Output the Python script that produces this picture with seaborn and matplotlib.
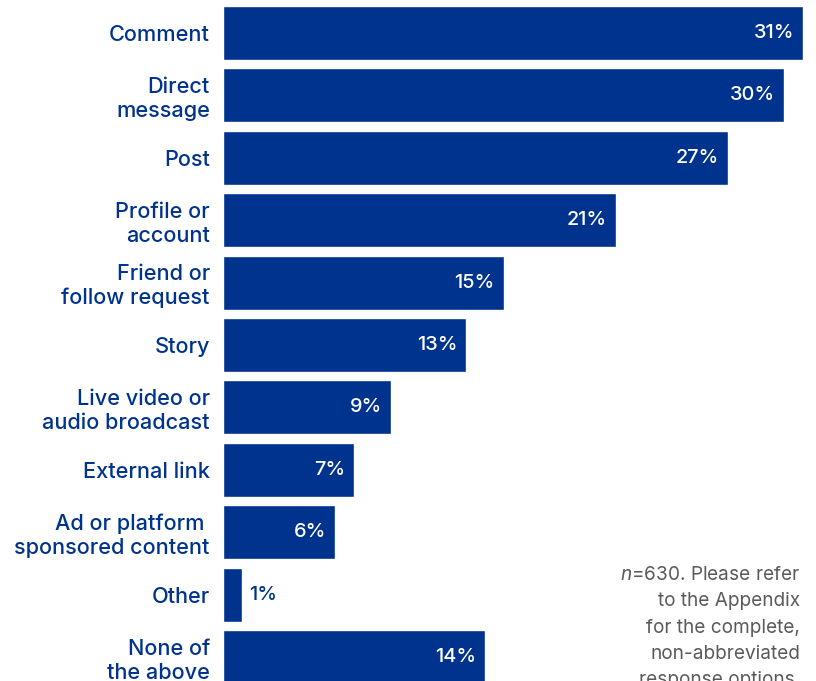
import matplotlib
matplotlib.use("Agg")
import matplotlib.pyplot as plt
import seaborn as sns
import pandas as pd

categories = [
    "Comment",
    "Direct\nmessage",
    "Post",
    "Profile or\naccount",
    "Friend or\nfollow request",
    "Story",
    "Live video or\naudio broadcast",
    "External link",
    "Ad or platform \nsponsored content",
    "Other",
    "None of\nthe above",
]
values = [31, 30, 27, 21, 15, 13, 9, 7, 6, 1, 14]
note_lines = [
    "$\\it{n}$=630. Please refer",
    "to the Appendix",
    "for the complete,",
    "non-abbreviated",
    "response options.",
]

NAVY = "#00338D"
GREY = "#5a5a5a"

sns.set_theme(style="white")
plt.rcParams["font.family"] = ["Inter", "DejaVu Sans"]
plt.rcParams["mathtext.fontset"] = "custom"
plt.rcParams["mathtext.rm"] = "Inter"
plt.rcParams["mathtext.it"] = "Inter:italic"

df = pd.DataFrame({"category": categories, "value": values})

W, H = 816, 681
fig = plt.figure(figsize=(W / 100, H / 100), dpi=100)
left_px = 223
ax = fig.add_axes([left_px / W, 0, 1 - left_px / W, 1])

sns.barplot(data=df, x="value", y="category", orient="h", color=NAVY,
            saturation=1, width=0.865, ax=ax)

px_per_unit = (803 - 223) / 31
ax.set_xlim(0, (W - left_px) / px_per_unit)
top_c = 33
pitch = 62.4
ax.set_ylim((H - top_c) / pitch, -top_c / pitch)

for s in ax.spines.values():
    s.set_visible(False)
ax.set_xticks([])
ax.set_xlabel("")
ax.set_ylabel("")
ax.tick_params(axis="y", length=0, pad=9.5)
ax.set_yticks(range(len(categories)))
ax.set_yticklabels(categories, fontsize=15.6, color=NAVY, fontweight="medium",
                   linespacing=1.22)

for i, v in enumerate(values):
    if v >= 3:
        ax.annotate(f"{v}%", (v, i), xytext=(-6.5, 0), textcoords="offset points",
                    ha="right", va="center", color="white", fontsize=14.3,
                    fontweight="medium")
    else:
        ax.annotate(f"{v}%", (v, i), xytext=(5, 0), textcoords="offset points",
                    ha="left", va="center", color=NAVY, fontsize=14.3,
                    fontweight="medium")

for j, line in enumerate(note_lines):
    fig.text(800 / W, 1 - (575 + 26.3 * j) / H, line, ha="right", va="center",
             color=GREY, fontsize=13.7)

fig.savefig("out.png", dpi=100)
